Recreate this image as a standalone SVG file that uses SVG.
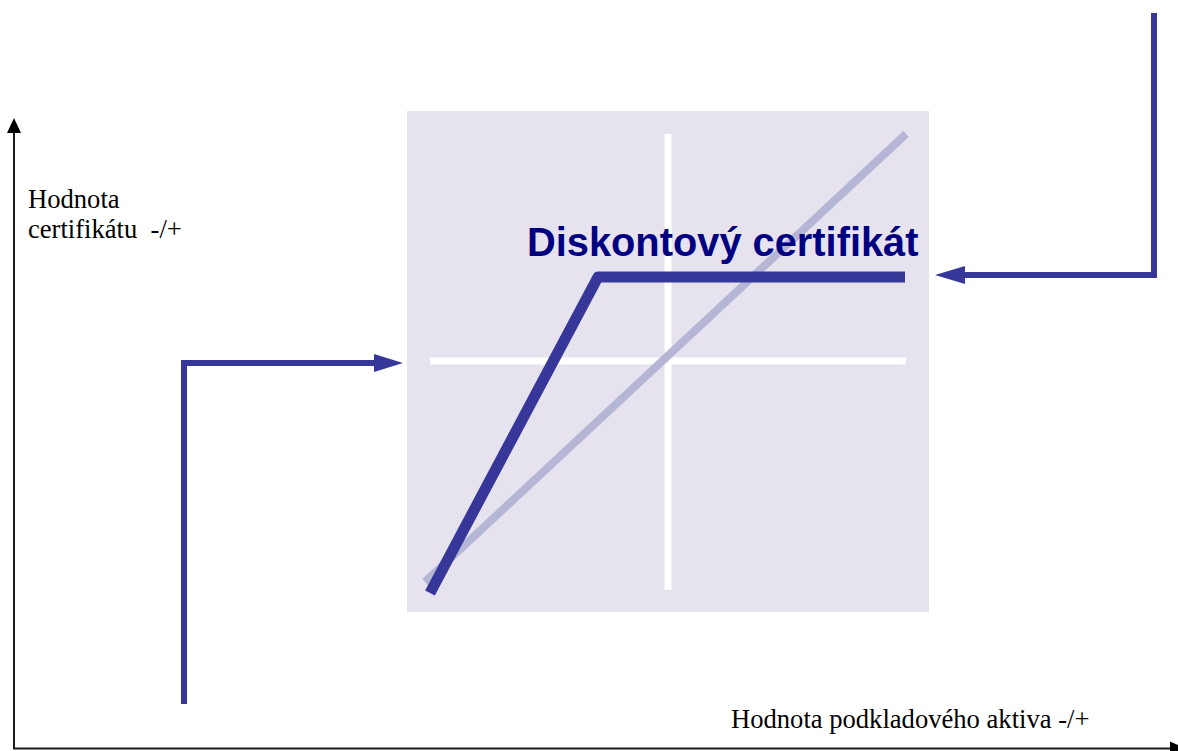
<svg xmlns="http://www.w3.org/2000/svg" width="1178" height="751" viewBox="0 0 1178 751">
<style>
.ax{stroke:#1a1a1a;stroke-width:2;fill:none}
.axh{fill:#000}
.conn{stroke:#37379a;stroke-width:6;fill:none}
.head{fill:#37379a}
.lbl{font-family:"Liberation Serif","Times New Roman",serif;font-size:26.6px;fill:#000}
.title{font-family:"Liberation Sans",Arial,sans-serif;font-weight:bold;font-size:39.8px;fill:#000080}
</style>
<rect width="1178" height="751" fill="#fff"/>
<g id="axes">
<line class="ax" x1="14" y1="130" x2="14" y2="749"/>
<polygon class="axh" points="14,118 7,133 21,133"/>
<line class="ax" x1="13" y1="748.5" x2="1172" y2="748.5"/>
<polygon class="axh" points="1186,748.5 1170,741.5 1170,755.5"/>
<text class="lbl" x="28" y="208">Hodnota</text>
<text class="lbl" x="28" y="238" xml:space="preserve">certifikátu  -/+</text>
<text class="lbl" x="731" y="728">Hodnota podkladového aktiva -/+</text>
</g>
<g id="chart">
<rect x="407" y="111" width="522" height="501" fill="#e6e3ef"/>
<line x1="668" y1="134" x2="668" y2="590" stroke="#fff" stroke-width="7"/>
<line x1="430" y1="361" x2="906" y2="361" stroke="#fff" stroke-width="7"/>
<line x1="425" y1="582" x2="906" y2="134" stroke="#b5b5d6" stroke-width="8"/>
<text class="title" x="527" y="256">Diskontový certifikát</text>
<polyline points="430,593 598,277 905,277" stroke="#37379a" stroke-width="11" fill="none" stroke-linejoin="round"/>
</g>
<g id="connectors">
<polyline class="conn" points="184,704 184,363 378,363"/>
<polygon class="head" points="403,363 374,354 374,372"/>
<polyline class="conn" points="1154,13 1154,275 962,275"/>
<polygon class="head" points="935,275 965,266 965,284"/>
</g>
</svg>
